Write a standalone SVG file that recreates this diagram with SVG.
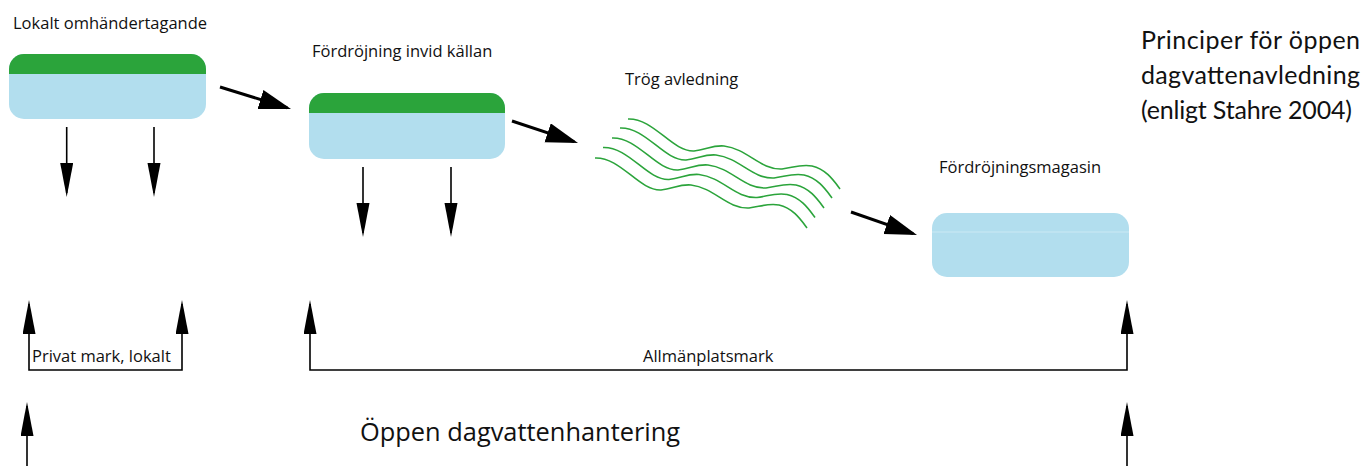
<svg xmlns="http://www.w3.org/2000/svg" width="1363" height="466" viewBox="0 0 1363 466">
  <style>
    .lbl { font-family: "Open Sans", "Noto Sans", sans-serif; font-size: 16.5px; fill: #111; }
    .big { font-family: "Open Sans", "Noto Sans", sans-serif; font-size: 25.4px; fill: #111; }
    .ttl { font-family: Lato, "Open Sans", sans-serif; font-size: 25px; fill: #111; }
    .blue { fill: #b2deee; }
    .green { fill: #2ba43b; }
    .thin { stroke: #000; stroke-width: 1.6; fill: none; marker-end: url(#ah); }
    .brk { stroke: #000; stroke-width: 1.6; fill: none; marker-start: url(#ah); marker-end: url(#ah); }
    .thick { stroke: #000; stroke-width: 3; fill: none; marker-end: url(#ahb); }
    .wave { stroke: #2ba43b; stroke-width: 1.6; fill: none; }
  </style>
  <defs>
    <marker id="ah" markerUnits="userSpaceOnUse" markerWidth="36" markerHeight="14" refX="30" refY="6.5" orient="auto-start-reverse" viewBox="0 0 36 14">
      <path d="M0,0 L34,6.5 L0,13 Z" fill="#000"/>
    </marker>
    <marker id="ahb" markerUnits="userSpaceOnUse" markerWidth="34" markerHeight="22" refX="28" refY="10" orient="auto" viewBox="0 0 34 22">
      <path d="M0,0 L32,10 L0,20 Z" fill="#000"/>
    </marker>
    <path id="wv" d="M628,119 C654,118 672,152 694,151 C706,150 712,145 724,146 C748,149 760,170 782,169 C792,168 800,164 812,166 C826,169 834,181 840,189"/>
  </defs>

  <g id="title">
    <text class="ttl" x="1141" y="49" textLength="219" lengthAdjust="spacing">Principer för öppen</text>
    <text class="ttl" x="1141" y="84" textLength="219" lengthAdjust="spacing">dagvattenavledning</text>
    <text class="ttl" x="1141" y="119" textLength="211" lengthAdjust="spacing">(enligt Stahre 2004)</text>
  </g>

  <g id="node-lokalt">
    <rect class="blue" x="9" y="54" width="197" height="65" rx="15"/>
    <path class="green" d="M9,74 V69 A15,15 0 0 1 24,54 H191 A15,15 0 0 1 206,69 V74 Z"/>
    <text class="lbl" x="13" y="29">Lokalt omhändertagande</text>
  </g>

  <g id="node-fordrojning">
    <rect class="blue" x="309" y="93" width="196" height="66" rx="15"/>
    <path class="green" d="M309,113 V108 A15,15 0 0 1 324,93 H490 A15,15 0 0 1 505,108 V113 Z"/>
    <text class="lbl" x="312" y="57">Fördröjning invid källan</text>
  </g>

  <g id="node-trog">
    <use href="#wv" class="wave"/>
    <use href="#wv" class="wave" transform="translate(-8,9)"/>
    <use href="#wv" class="wave" transform="translate(-16,19)"/>
    <use href="#wv" class="wave" transform="translate(-25,28.5)"/>
    <use href="#wv" class="wave" transform="translate(-33,39)"/>
    <text class="lbl" x="625" y="85">Trög avledning</text>
  </g>

  <g id="node-magasin">
    <rect class="blue" x="932" y="213" width="197" height="64" rx="15"/>
    <line x1="932" y1="232" x2="1129" y2="232" stroke="#d2ecf5" stroke-width="0.8"/>
    <text class="lbl" x="939" y="173">Fördröjningsmagasin</text>
  </g>

  <g id="labels">
    <text class="lbl" x="32" y="362">Privat mark, lokalt</text>
    <text class="lbl" x="643" y="362">Allmänplatsmark</text>
    <text class="big" x="360" y="441">Öppen dagvattenhantering</text>
  </g>

  <g id="connectors">
    <line class="thick" x1="220" y1="87" x2="287.2" y2="107.8"/>
    <line class="thick" x1="512" y1="121" x2="574.2" y2="141.7"/>
    <line class="thick" x1="851" y1="212" x2="913.2" y2="233.7"/>

    <line class="thin" x1="66.7" y1="127" x2="66.7" y2="193"/>
    <line class="thin" x1="154" y1="127" x2="154" y2="193"/>
    <line class="thin" x1="363" y1="167" x2="363" y2="233"/>
    <line class="thin" x1="451" y1="167" x2="451" y2="233"/>

    <path class="brk" d="M29,304 V370 H182 V304"/>
    <path class="brk" d="M310,304 V370 H1127 V304"/>

    <line class="thin" x1="27" y1="466" x2="27" y2="406"/>
    <line class="thin" x1="1127" y1="466" x2="1127" y2="406"/>
  </g>
</svg>
